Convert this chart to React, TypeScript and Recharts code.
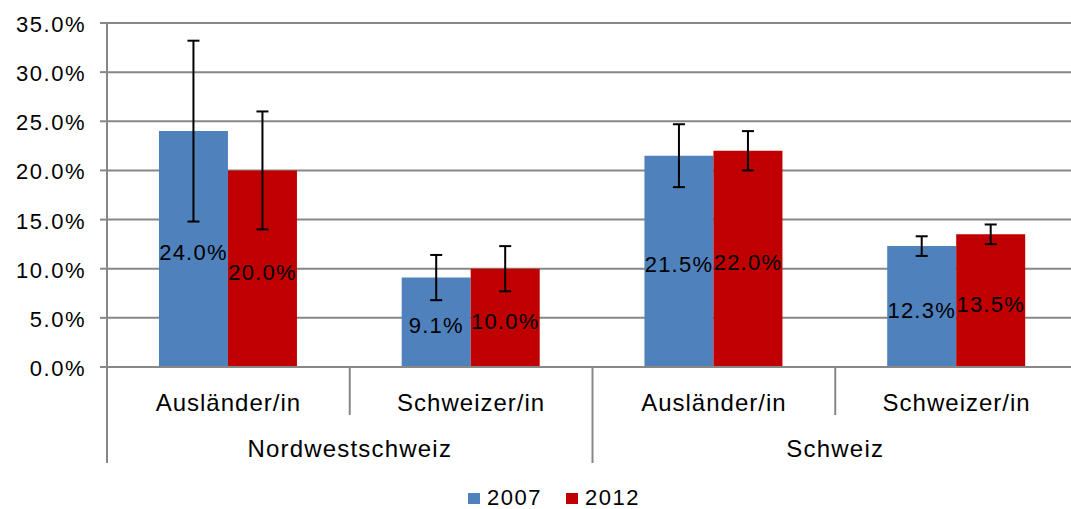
import { BarChart, Bar, XAxis, YAxis, CartesianGrid, ErrorBar, LabelList, Legend } from "recharts"

const subCategories = ["Ausländer/in", "Schweizer/in", "Ausländer/in", "Schweizer/in"]
const groups = ["Nordwestschweiz", "Nordwestschweiz", "Schweiz", "Schweiz"]
const values2007 = [24.0, 9.1, 21.5, 12.3]
const values2012 = [20.0, 10.0, 22.0, 13.5]
const errors2007 = [9.2, 2.3, 3.2, 1.0]
const errors2012 = [6.0, 2.3, 2.0, 1.0]
const yTicks = [0, 5, 10, 15, 20, 25, 30, 35]

const data = subCategories.map((sub, i) => ({
  sub,
  group: groups[i],
  v2007: values2007[i],
  v2012: values2012[i],
  e2007: errors2007[i],
  e2012: errors2012[i],
}))

const FONT = "'Liberation Sans', Arial, sans-serif"
const GRID = "#878787"
const W = 1085
const H = 509
const MARGIN = { top: 23, right: 7, left: 0, bottom: 0 }
const Y_WIDTH = 107
const BAND = (W - MARGIN.left - MARGIN.right - Y_WIDTH) / subCategories.length

function YTick({ x, y, payload }: any) {
  return (
    <text x={x - 12} y={y + 9} textAnchor="end" fontSize={22} letterSpacing={1.5} fontFamily={FONT} fill="#000">
      {payload.value.toFixed(1)}%
    </text>
  )
}

function XTick({ x, y, payload, index }: any) {
  const left = x - BAND / 2
  const longLine = index % 2 === 0
  return (
    <g>
      <line x1={left} y1={y} x2={left} y2={y + (longLine ? 96 : 48)} stroke={GRID} strokeWidth={2} />
      <text x={x} y={y + 44} textAnchor="middle" fontSize={24} letterSpacing={1} fontFamily={FONT} fill="#000">
        {payload.value}
      </text>
      {index % 2 === 1 && (
        <text x={left} y={y + 90} textAnchor="middle" fontSize={24} letterSpacing={1.2} fontFamily={FONT} fill="#000">
          {groups[index]}
        </text>
      )}
      {index === subCategories.length - 1 && (
        <line x1={x + BAND / 2} y1={y} x2={x + BAND / 2} y2={y + 96} stroke={GRID} strokeWidth={2} />
      )}
    </g>
  )
}

function CenterLabel({ x, y, width, height, value }: any) {
  return (
    <text x={x + width / 2} y={y + height / 2 + 11} textAnchor="middle" fontSize={22} letterSpacing={1.2} fontFamily={FONT} fill="#000">
      {Number(value).toFixed(1)}%
    </text>
  )
}

function LegendContent({ payload }: any) {
  return (
    <div style={{ display: "flex", alignItems: "center", fontFamily: FONT, fontSize: 22, letterSpacing: 1.5, whiteSpace: "nowrap" }}>
      {(payload || []).map((item: any, i: number) => (
        <div key={i} style={{ display: "flex", alignItems: "center", marginRight: 24 }}>
          <span style={{ width: 12, height: 11, background: item.color, marginRight: 7, display: "inline-block" }} />
          <span>{item.value}</span>
        </div>
      ))}
    </div>
  )
}

export default function App() {
  return (
    <div style={{ position: "fixed", left: 0, top: 0, width: 1071, height: 509, overflow: "hidden", background: "#fff" }}>
      <BarChart width={W} height={H} data={data} margin={MARGIN} barCategoryGap="21.4%" barGap={0}>
        <CartesianGrid vertical={false} stroke={GRID} strokeWidth={2} />
        <XAxis
          dataKey="sub"
          height={H - MARGIN.top - 344}
          tickLine={false}
          tickSize={0}
          tickMargin={0}
          axisLine={{ stroke: GRID, strokeWidth: 2 }}
          tick={<XTick />}
          interval={0}
        />
        <YAxis
          width={Y_WIDTH}
          domain={[0, 35]}
          ticks={yTicks}
          interval={0}
          tickSize={7}
          tickLine={{ stroke: GRID, strokeWidth: 2 }}
          axisLine={{ stroke: GRID, strokeWidth: 2 }}
          tick={<YTick />}
        />
        <Legend
          layout="horizontal"
          verticalAlign="middle"
          align="center"
          content={<LegendContent />}
          wrapperStyle={{ top: 485, left: 468, width: 260, height: 26 }}
        />
        <Bar dataKey="v2007" name="2007" fill="#4f81bd" isAnimationActive={false}>
          <ErrorBar dataKey="e2007" width={6} strokeWidth={2} stroke="#000" direction="y" />
          <LabelList dataKey="v2007" content={<CenterLabel />} />
        </Bar>
        <Bar dataKey="v2012" name="2012" fill="#c00000" isAnimationActive={false}>
          <ErrorBar dataKey="e2012" width={6} strokeWidth={2} stroke="#000" direction="y" />
          <LabelList dataKey="v2012" content={<CenterLabel />} />
        </Bar>
      </BarChart>
    </div>
  )
}
